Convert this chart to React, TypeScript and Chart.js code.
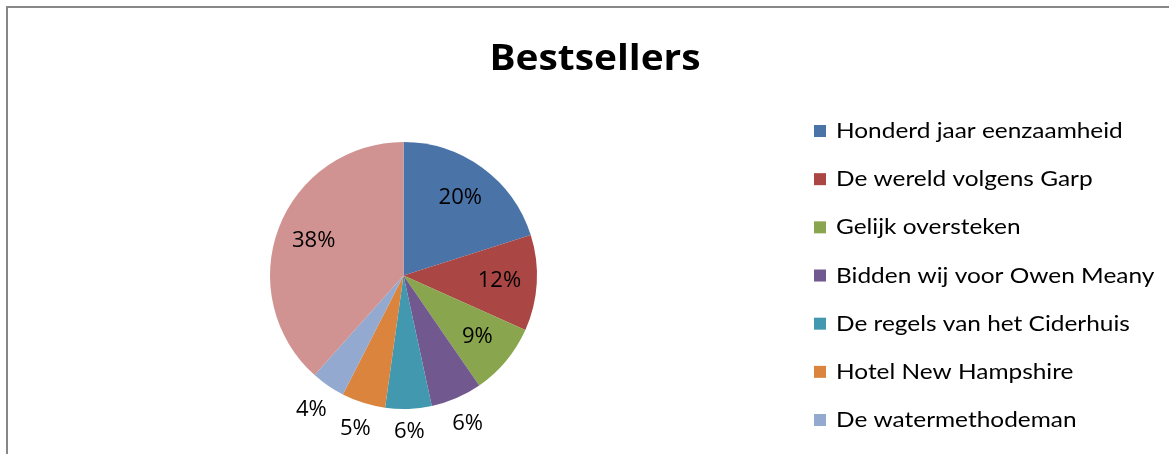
import React, { useEffect, useRef } from "react";
import { Chart, registerables } from "chart.js";

Chart.register(...registerables);

const chartTitle = "Bestsellers";
const books = [
  "Honderd jaar eenzaamheid",
  "De wereld volgens Garp",
  "Gelijk oversteken",
  "Bidden wij voor Owen Meany",
  "De regels van het Ciderhuis",
  "Hotel New Hampshire",
  "De watermethodeman",
  "Overige",
];
const shares = [20.1, 11.6, 8.7, 6.2, 5.6, 5.3, 4.1, 38.4];
const sliceColors = [
  "#4A73A8",
  "#AA4643",
  "#89A54E",
  "#71588F",
  "#4198AF",
  "#DB843D",
  "#93A9CF",
  "#D19392",
];

const FONT = "'Open Sans', 'Liberation Sans', sans-serif";
const LEGEND_FONT = "Lato, 'Open Sans', sans-serif";

function stretchText(ctx: any, text: string, x: number, y: number, sx: number) {
  ctx.save();
  ctx.translate(x, y);
  ctx.scale(sx, 1);
  ctx.fillText(text, 0, 0);
  ctx.restore();
}

const framePlugin = {
  id: "frame",
  beforeDraw(chart: any) {
    const ctx = chart.ctx;
    ctx.save();
    ctx.fillStyle = "#ffffff";
    ctx.fillRect(0, 0, chart.width, chart.height);
    ctx.fillStyle = "#878787";
    ctx.fillRect(6, 6, chart.width, 2);
    ctx.fillRect(6, 6, 2, chart.height);
    ctx.restore();
  },
};

const decorPlugin = {
  id: "decor",
  afterDatasetsDraw(chart: any) {
    const ctx = chart.ctx;
    const ds = chart.data.datasets[0];
    const vals: number[] = ds.data;
    const total = vals.reduce((a, b) => a + b, 0);
    const meta = chart.getDatasetMeta(0);
    ctx.save();
    ctx.textAlign = "center";
    ctx.textBaseline = "middle";
    ctx.fillStyle = "#000000";
    ctx.font = `21px ${FONT}`;
    meta.data.forEach((arc: any, i: number) => {
      const p = arc.getProps(["x", "y", "startAngle", "endAngle", "outerRadius"], true);
      const share = vals[i] / total;
      const mid = (p.startAngle + p.endAngle) / 2;
      const label = Math.round(share * 100) + "%";
      const c = Math.cos(mid);
      const s = Math.sin(mid);
      let d;
      if (share >= 0.08) {
        d = p.outerRadius * 0.72;
      } else {
        const w = ctx.measureText(label).width;
        d = p.outerRadius + 14 + Math.abs(c) * (w / 2) + Math.abs(s) * 9;
      }
      stretchText(ctx, label, p.x + c * d, p.y + s * d, 1.05);
    });

    // title
    ctx.font = `bold 35px ${FONT}`;
    ctx.textBaseline = "alphabetic";
    stretchText(ctx, chart.options.plugins.decor.title, 595, 70, 1.11);

    // legend
    ctx.textAlign = "left";
    ctx.textBaseline = "middle";
    ctx.font = `22px ${LEGEND_FONT}`;
    chart.data.labels.forEach((lab: string, i: number) => {
      const cy = 131 + i * 48.17;
      ctx.fillStyle = ds.backgroundColor[i];
      ctx.fillRect(814, cy - 6, 12, 12);
      ctx.fillStyle = "#000000";
      stretchText(ctx, lab, 836, cy, 1.11);
    });
    ctx.restore();
  },
};

export default function App() {
  const ref = useRef<HTMLCanvasElement>(null);
  useEffect(() => {
    if (!ref.current) return;
    const chart = new Chart(ref.current, {
      type: "pie",
      data: {
        labels: books,
        datasets: [
          {
            data: shares,
            backgroundColor: sliceColors,
            borderWidth: 0,
          },
        ],
      },
      options: {
        animation: false,
        responsive: false,
        devicePixelRatio: 1,
        layout: { padding: { left: 270, right: 632, top: 142, bottom: 45 } },
        plugins: {
          legend: { display: false },
          title: { display: false },
          tooltip: { enabled: false },
          decor: { title: chartTitle },
        } as any,
      },
      plugins: [framePlugin, decorPlugin],
    });
    return () => chart.destroy();
  }, []);
  return (
    <div style={{ position: "fixed", left: 0, top: 0, width: 1169, height: 454, background: "#fff" }}>
      <canvas ref={ref} width={1169} height={454} style={{ width: 1169, height: 454 }} />
    </div>
  );
}
